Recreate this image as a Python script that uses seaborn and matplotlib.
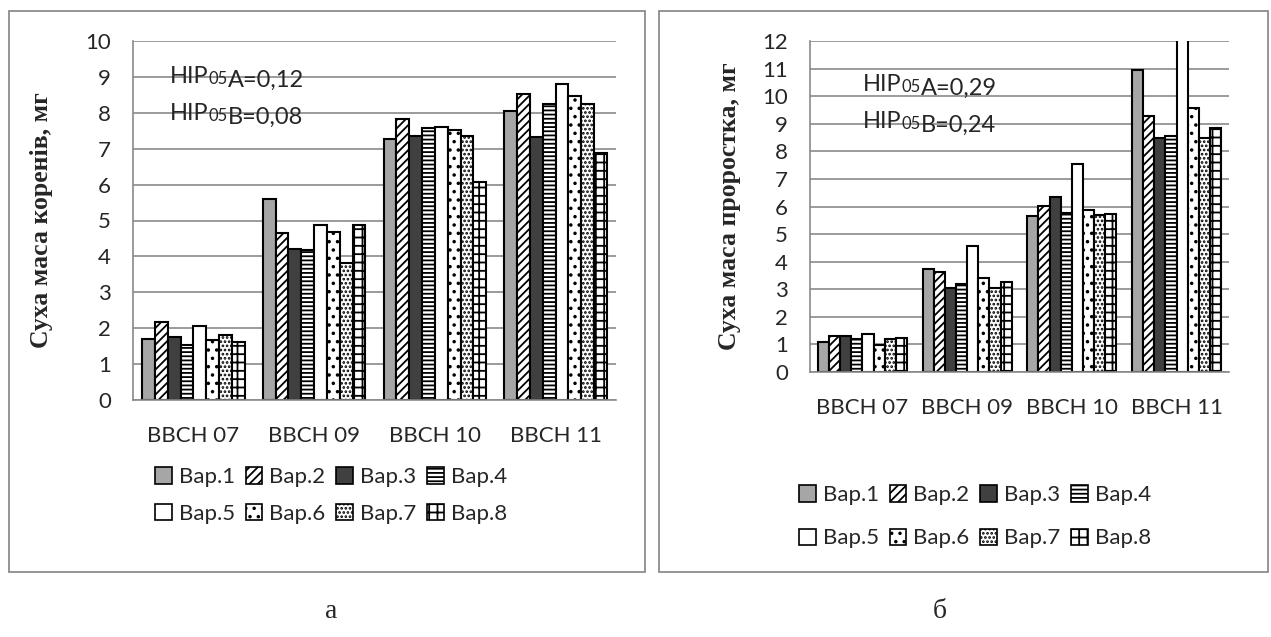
import matplotlib
matplotlib.use("Agg")
import matplotlib.pyplot as plt
from matplotlib.patches import Patch, Rectangle
import pandas as pd
import seaborn as sns

# data (dry mass, mg)
stages = ["BBCH 07", "BBCH 09", "BBCH 10", "BBCH 11"]
variants = ["Вар.1", "Вар.2", "Вар.3", "Вар.4", "Вар.5", "Вар.6", "Вар.7", "Вар.8"]

# panel a: roots, one row per stage, one value per variant
roots_mass = [
    [1.71, 2.18, 1.76, 1.53, 2.05, 1.67, 1.80, 1.61],
    [5.59, 4.66, 4.22, 4.17, 4.88, 4.68, 3.82, 4.88],
    [7.26, 7.82, 7.35, 7.59, 7.61, 7.52, 7.34, 6.08],
    [8.06, 8.52, 7.33, 8.25, 8.79, 8.48, 8.25, 6.89],
]
# panel b: sprout
sprout_mass = [
    [1.07, 1.31, 1.31, 1.21, 1.39, 0.98, 1.19, 1.22],
    [3.73, 3.62, 3.03, 3.20, 4.56, 3.41, 3.03, 3.26],
    [5.66, 6.01, 6.36, 5.76, 7.55, 5.89, 5.70, 5.73],
    [10.95, 9.28, 8.47, 8.55, 12.6, 9.57, 8.47, 8.85],
]

nir_roots = ["0,12", "0,08"]
nir_sprout = ["0,29", "0,24"]

# fill + hatch for each variant
fills = ["#a6a6a6", "white", "#404040", "white", "white", "white", "white", "white"]
hatches = [None, "////", None, "----", None, "..", "....", "++"]

sns.set_style("white")
plt.rcParams["font.family"] = ["Lato", "DejaVu Sans"]
plt.rcParams["hatch.linewidth"] = 1.3

W, H = 1271, 637
fig = plt.figure(figsize=(W / 100, H / 100), dpi=100)

grid_col = "#8a8a8a"


def to_frame(values):
    rows = []
    for stage, row in zip(stages, values):
        for var, val in zip(variants, row):
            rows.append((stage, var, val))
    return pd.DataFrame(rows, columns=["stage", "variant", "mass"])


def draw_panel(rect, values, ymax, ylabel, nir, nir_xy, leg_xy, leg_space):
    ax = fig.add_axes(rect)
    df = to_frame(values)
    sns.barplot(data=df, x="stage", y="mass", hue="variant", order=stages,
                hue_order=variants, palette=dict(zip(variants, fills)),
                width=0.85, saturation=1, edgecolor="black", linewidth=1.5,
                legend=False, ax=ax)
    for cont, h in zip(ax.containers, hatches):
        for bar in cont:
            if h:
                bar.set_hatch(h)
    ax.set_ylim(0, ymax)
    ax.set_xlim(-0.5, 3.5)
    ax.set_yticks(range(0, ymax + 1))
    ax.set_axisbelow(True)
    ax.grid(axis="y", color=grid_col, linewidth=1.2)
    for s in ["top", "right"]:
        ax.spines[s].set_visible(False)
    for s in ["left", "bottom"]:
        ax.spines[s].set_color(grid_col)
        ax.spines[s].set_linewidth(1.2)
    ax.tick_params(axis="y", length=7, width=1.2, color=grid_col, pad=9, labelsize=16)
    ax.set_xticks([-0.5, 0.5, 1.5, 2.5, 3.5], minor=True)
    ax.tick_params(axis="x", which="minor", length=7, width=1.2, color=grid_col)
    ax.tick_params(axis="x", which="major", length=0, pad=19, labelsize=16)
    ax.set_xlabel("")
    ax.set_ylabel(ylabel, family="Liberation Serif", fontweight="bold", fontsize=18.5)
    ax.yaxis.set_label_coords(-0.165, 0.5)

    # НІР05 annotations, "05" set smaller on the baseline
    for i, (factor, val) in enumerate(zip(["А", "В"], nir)):
        x, y = nir_xy[0], nir_xy[1] + i * 37
        t1 = fig.text(x / W, 1 - y / H, "НІР", fontsize=17, va="baseline")
        t2 = ax.annotate("05", xy=(1, 0), xycoords=t1, fontsize=12, va="bottom")
        ax.annotate(factor + "=" + val, xy=(1, 0), xycoords=t2, fontsize=17,
                    va="baseline")

    handles = [Patch(facecolor=f, edgecolor="black", hatch=h, linewidth=1.2, label=v)
               for f, h, v in zip(fills, hatches, variants)]
    # legend fills column by column, so interleave to get rows 1-4 / 5-8
    order = [0, 4, 1, 5, 2, 6, 3, 7]
    ax.legend(handles=[handles[k] for k in order], loc="upper center", ncol=4,
              frameon=False, bbox_to_anchor=(leg_xy[0] / W, 1 - leg_xy[1] / H),
              bbox_transform=fig.transFigure, fontsize=16, handlelength=0.75,
              handleheight=0.75, handletextpad=0.3, columnspacing=0.5,
              labelspacing=leg_space, borderpad=0)
    return ax


draw_panel([133 / W, 1 - 400 / H, 483 / W, 359 / H], roots_mass, 10,
           "Суха маса коренів, мг", nir_roots, (170, 83), (331, 456), 0.75)
draw_panel([810 / W, 1 - 372 / H, 419 / W, 331 / H], sprout_mass, 12,
           "Суха маса проростка, мг", nir_sprout, (863, 91), (975, 474), 1.05)

# chart frames
for x0, x1 in [(9, 645), (659, 1268)]:
    fig.patches.append(Rectangle((x0 / W, 1 - 572 / H), (x1 - x0) / W, 561 / H,
                                 transform=fig.transFigure, fill=False,
                                 edgecolor="#8c8c8c", linewidth=1.3))

fig.text(331 / W, 1 - 612 / H, "а", family="Liberation Serif", fontsize=20,
         ha="center", va="center")
fig.text(940 / W, 1 - 612 / H, "б", family="Liberation Serif", fontsize=20,
         ha="center", va="center")

fig.savefig("out.png", dpi=100)
